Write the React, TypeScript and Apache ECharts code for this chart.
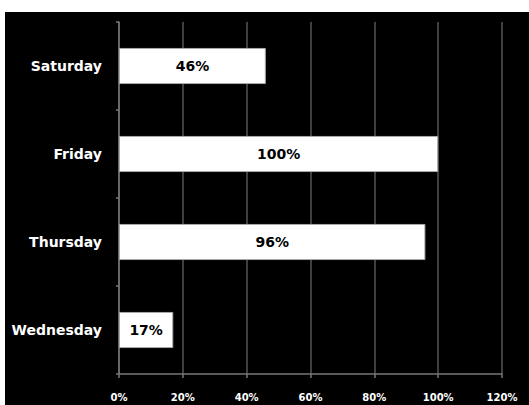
import React, { useEffect, useRef } from "react";
import * as echarts from "echarts";

const categories = ["Wednesday", "Thursday", "Friday", "Saturday"];
const values = [17, 96, 100, 46];
const xTicks = [0, 20, 40, 60, 80, 100, 120];

export default function App() {
  const ref = useRef<HTMLDivElement>(null);
  useEffect(() => {
    document.body.style.margin = "0";
    const chart = echarts.init(ref.current!, null, { renderer: "svg" });
    chart.setOption({
      animation: false,
      backgroundColor: "#000",
      grid: { left: 114, right: 27, top: 10, bottom: 31 },
      xAxis: {
        type: "value",
        min: xTicks[0],
        max: xTicks[xTicks.length - 1],
        interval: 20,
        axisLine: { show: true, lineStyle: { color: "#777", width: 1.5 } },
        axisTick: { show: true, length: 4, lineStyle: { color: "#777", width: 1.5 } },
        splitLine: { show: true, lineStyle: { color: "#555", width: 1.5 } },
        axisLabel: {
          color: "#fff",
          fontFamily: "DejaVu Sans",
          fontWeight: "bold",
          fontSize: 10,
          margin: 18,
          formatter: "{value}%",
        },
      },
      yAxis: {
        type: "category",
        data: categories,
        axisLine: { show: true, lineStyle: { color: "#777", width: 1.5 } },
        axisTick: { show: true, length: 3, lineStyle: { color: "#777", width: 1.5 } },
        axisLabel: {
          color: "#fff",
          fontFamily: "DejaVu Sans",
          fontWeight: "bold",
          fontSize: 14,
          margin: 17,
        },
      },
      series: [
        {
          type: "bar",
          data: values,
          barWidth: "41%",
          itemStyle: { color: "#fff", borderColor: "#aaa", borderWidth: 1 },
          label: {
            show: true,
            position: "inside",
            formatter: "{c}%",
            color: "#000",
            fontFamily: "DejaVu Sans",
            fontWeight: "bold",
            fontSize: 14,
          },
        },
      ],
    });
    return () => chart.dispose();
  }, []);
  return (
    <div style={{ position: "relative", width: 529, height: 405, background: "#fff" }}>
      <div
        ref={ref}
        style={{ position: "absolute", left: 5, top: 12, width: 524, height: 393 }}
      />
    </div>
  );
}
